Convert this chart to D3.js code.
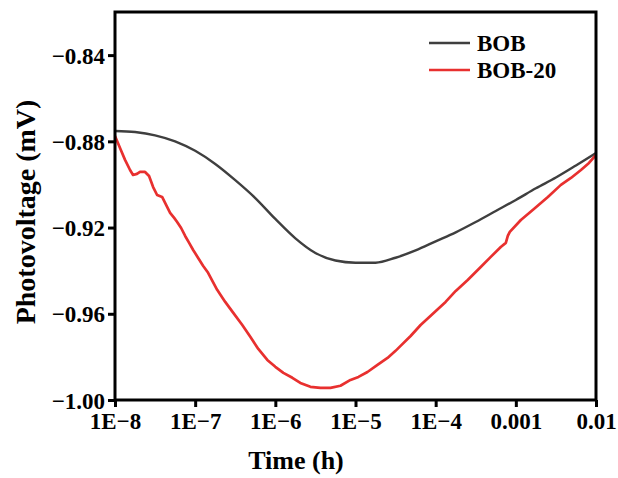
<!DOCTYPE html>
<html>
<head>
<meta charset="utf-8">
<script src="https://cdn.jsdelivr.net/npm/d3@7"></script>
<style>
  html, body { margin: 0; padding: 0; background: #fff; }
  svg text { font-family: "Liberation Serif", "Times New Roman", serif; font-weight: bold; fill: #000; }
</style>
</head>
<body>
<div id="chart"></div>
<script>
// ---- data ----
const xTicks = [1e-8, 1e-7, 1e-6, 1e-5, 1e-4, 1e-3, 1e-2];
const xTickLabels = ["1E\u22128", "1E\u22127", "1E\u22126", "1E\u22125", "1E\u22124", "0.001", "0.01"];
const yTicks = [-1.00, -0.96, -0.92, -0.88, -0.84];
const yTickLabels = ["\u22121.00", "\u22120.96", "\u22120.92", "\u22120.88", "\u22120.84"];
const seriesNames = ["BOB", "BOB-20"];

const bobTime = [1e-8, 1.78e-8, 3.16e-8, 5.62e-8, 1e-7, 1.78e-7, 3.16e-7, 5.62e-7, 1e-6, 1.78e-6, 3.16e-6,
  5.62e-6, 1e-5, 1.78e-5, 3.16e-5, 5.62e-5, 1e-4, 1.78e-4, 3.16e-4, 5.62e-4, 1e-3, 1.78e-3, 3.16e-3, 5.62e-3, 1e-2];
const bobVolt = [-0.8752, -0.8757, -0.8772, -0.8800, -0.8844, -0.8905, -0.8980, -0.9063, -0.9160, -0.9250, -0.9318,
  -0.9353, -0.9363, -0.9363, -0.9340, -0.9306, -0.9264, -0.9222, -0.9174, -0.9123, -0.9072, -0.9018, -0.8968, -0.8912, -0.8854];

const bob20Time = [1e-8, 1.155e-8, 1.334e-8, 1.54e-8, 1.68e-8, 1.88e-8, 2.05e-8, 2.37e-8, 2.66e-8, 2.99e-8, 3.35e-8,
  3.87e-8, 4.34e-8, 4.87e-8, 5.47e-8, 5.96e-8, 6.68e-8, 7.50e-8, 8.41e-8, 9.44e-8, 1.09e-7, 1.26e-7, 1.45e-7,
  1.88e-7, 2.37e-7, 2.99e-7, 3.87e-7, 4.87e-7, 6.13e-7, 7.94e-7, 1.00e-6, 1.26e-6, 1.63e-6, 2.05e-6, 2.74e-6,
  3.65e-6, 4.87e-6, 6.49e-6, 8.66e-6, 1.09e-5, 1.41e-5, 1.88e-5, 2.51e-5, 3.16e-5, 3.65e-5, 4.87e-5, 6.49e-5,
  9.44e-5, 1.33e-4, 1.78e-4, 2.51e-4, 3.65e-4, 4.87e-4, 6.49e-4, 7.50e-4, 7.94e-4, 8.41e-4, 1.155e-3, 1.68e-3,
  2.51e-3, 3.65e-3, 4.87e-3, 6.49e-3, 8.18e-3, 1.00e-2];
const bob20Volt = [-0.8775, -0.8831, -0.8886, -0.8933, -0.8956, -0.8951, -0.8942, -0.8942, -0.8961, -0.9012, -0.9049,
  -0.9058, -0.9095, -0.9132, -0.9155, -0.9174, -0.9202, -0.9239, -0.9271, -0.9304, -0.9341, -0.9378, -0.9410,
  -0.9489, -0.9545, -0.9596, -0.9652, -0.9707, -0.9763, -0.9814, -0.9846, -0.9874, -0.9897, -0.9921, -0.9939,
  -0.9944, -0.9944, -0.9934, -0.9907, -0.9893, -0.9870, -0.9837, -0.9805, -0.9772, -0.9749, -0.9703, -0.9652,
  -0.9596, -0.9545, -0.9494, -0.9443, -0.9383, -0.9336, -0.9290, -0.9271, -0.9239, -0.9220, -0.9165, -0.9114,
  -0.9058, -0.9002, -0.8970, -0.8933, -0.8900, -0.8863];

// ---- layout ----
const W = 618, H = 478;
const L = 115, R = 596, T = 12, B = 400;
const colors = ["#3f3f3f", "#e8302f"];

const svg = d3.select("#chart").append("svg").attr("width", W).attr("height", H);

const x = d3.scaleLog().domain([1e-8, 1e-2]).range([L, R]);
const y = d3.scaleLinear().domain([-1.00, -0.82]).range([B, T]);

const lineSmooth = d3.line().x(d => x(d[0])).y(d => y(d[1])).curve(d3.curveMonotoneX);
const lineRaw = d3.line().x(d => x(d[0])).y(d => y(d[1]));

const series = [
  d3.zip(bobTime, bobVolt),
  d3.zip(bob20Time, bob20Volt)
];

svg.append("defs").append("clipPath").attr("id", "clip")
  .append("rect").attr("x", L).attr("y", T).attr("width", R - L).attr("height", B - T);

const g = svg.append("g").attr("clip-path", "url(#clip)");
series.forEach((s, i) => {
  g.append("path").datum(s)
    .attr("fill", "none")
    .attr("stroke", colors[i])
    .attr("stroke-width", i === 0 ? 2.4 : 2.7)
    .attr("stroke-linejoin", "round")
    .attr("d", i === 0 ? lineSmooth : lineRaw);
});

// frame
svg.append("rect").attr("x", L).attr("y", T).attr("width", R - L).attr("height", B - T)
  .attr("fill", "none").attr("stroke", "#000").attr("stroke-width", 3);

// axes
const xAxis = d3.axisBottom(x).tickValues(xTicks)
  .tickFormat((d, i) => xTickLabels[i]).tickSize(7).tickPadding(4);
const gx = svg.append("g").attr("transform", `translate(0,${B})`).call(xAxis);
gx.select(".domain").remove();
gx.selectAll(".tick line").attr("stroke", "#000").attr("stroke-width", 3);
gx.selectAll(".tick text").style("font-size", "23px").attr("dy", "0.8em");

const yAxis = d3.axisLeft(y).tickValues(yTicks)
  .tickFormat((d, i) => yTickLabels[i]).tickSize(7).tickPadding(3);
const gy = svg.append("g").attr("transform", `translate(${L},0)`).call(yAxis);
gy.select(".domain").remove();
gy.selectAll(".tick line").attr("stroke", "#000").attr("stroke-width", 3);
gy.selectAll(".tick text").style("font-size", "23px").attr("dy", "0.35em");

// axis titles
svg.append("text").attr("x", 296).attr("y", 469)
  .attr("text-anchor", "middle").style("font-size", "26px").text("Time (h)");
svg.append("text").attr("transform", `translate(35,212) rotate(-90)`)
  .attr("text-anchor", "middle").style("font-size", "28px").text("Photovoltage (mV)");

// legend
const leg = svg.append("g");
seriesNames.forEach((n, i) => {
  const yy = 43 + i * 27;
  leg.append("line").attr("x1", 429).attr("x2", 470).attr("y1", yy).attr("y2", yy)
    .attr("stroke", colors[i]).attr("stroke-width", 2.4);
  leg.append("text").attr("x", 477).attr("y", yy).attr("dy", "0.35em")
    .style("font-size", "23px").text(n);
});
</script>
</body>
</html>
